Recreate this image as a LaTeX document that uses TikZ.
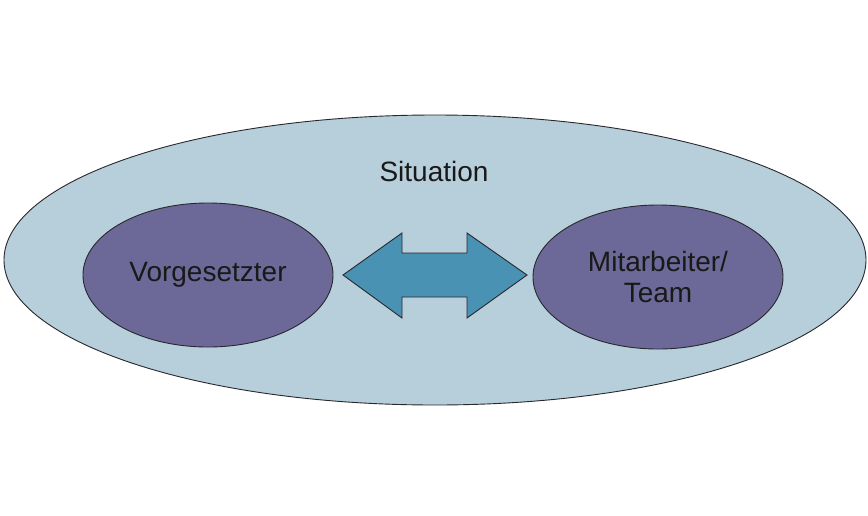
\documentclass[tikz,border=0pt]{standalone}
\usepackage{fontspec}
\setmainfont{Liberation Sans}
\usetikzlibrary{shapes.geometric}
\definecolor{outerfill}{RGB}{183,206,219}
\definecolor{innerfill}{RGB}{108,105,152}
\definecolor{arrowfill}{RGB}{74,146,180}
\definecolor{edge}{RGB}{40,40,45}
\begin{document}
\begin{tikzpicture}[x=1pt,y=-1pt,
  outerell/.style={ellipse,draw=edge,line width=0.9pt,fill=outerfill,inner sep=0pt,minimum width=862pt,minimum height=290pt},
  innerell/.style={ellipse,draw=edge,line width=0.9pt,fill=innerfill,inner sep=0pt,minimum width=250pt,minimum height=144pt,align=center,font=\fontsize{28}{31}\selectfont,text=black!90},
  lbl/.style={font=\fontsize{28}{31}\selectfont,text=black!90},
  bigarrow/.style={draw=edge,line width=0.9pt,fill=arrowfill,line join=miter}]
\useasboundingbox (0,0) rectangle (868,515);
\node[outerell] (sit) at (435,260) {};
\node[lbl] (sitlbl) at (434,171) {Situation};
\node[innerell] (vor) at (208,275) {Vorgesetzter};
\node[innerell] (mit) at (658,277) {Mitarbeiter/\\Team};
\draw[bigarrow] (343,275) -- (402,233) -- (402,253) -- (467,253) -- (467,233) -- (527,275)
  -- (467,318) -- (467,297) -- (402,297) -- (402,318) -- cycle;
\end{tikzpicture}
\end{document}
